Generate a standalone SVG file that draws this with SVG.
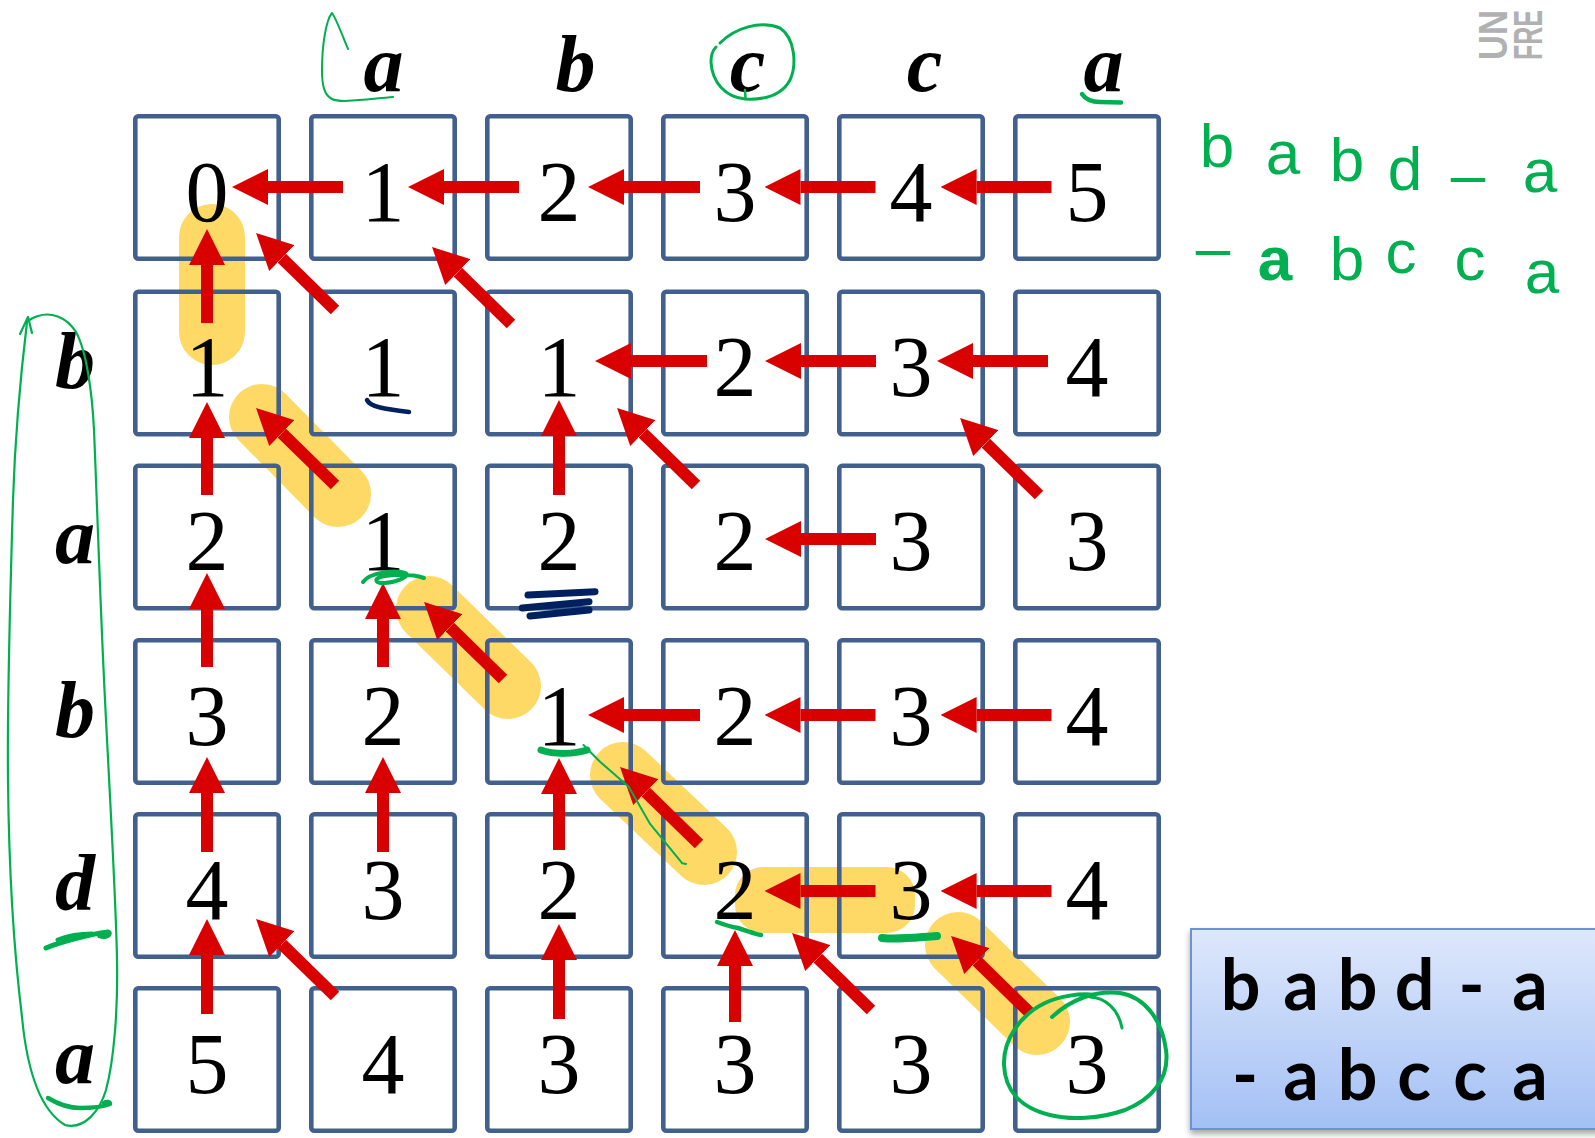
<svg xmlns="http://www.w3.org/2000/svg" width="1595" height="1138" viewBox="0 0 1595 1138">
<defs>
<style>
.cell rect{fill:none;stroke:#41608D;stroke-width:4.6}
.cell text{font-family:"Liberation Serif",serif;font-size:86px;fill:#000;text-anchor:middle}
.hdr{font-family:"Liberation Serif",serif;font-size:80px;font-weight:bold;font-style:italic;fill:#000;text-anchor:middle}
.hl{stroke:#FFD966;stroke-width:66;stroke-linecap:round;fill:none}
.arr line{stroke:#D90000;stroke-width:12;marker-end:url(#ah)}
.gp{fill:none;stroke:#00B050;stroke-linecap:round;stroke-linejoin:round}
.nv{fill:none;stroke:#002060;stroke-linecap:round}
.hand{font-family:"Liberation Sans",sans-serif;font-size:62px;fill:#00B050;text-anchor:middle}
.box{font-family:Lato,"Open Sans",sans-serif;font-size:70px;font-weight:bold;fill:#000;text-anchor:middle}
</style>
<marker id="ah" markerUnits="userSpaceOnUse" markerWidth="36" markerHeight="36" viewBox="0 0 36 36" refX="0" refY="18" orient="auto">
<path d="M0,0 L36,18 L0,36 Z" fill="#D90000"/>
</marker>
<linearGradient id="bg" x1="0" y1="0" x2="0" y2="1">
<stop offset="0" stop-color="#DEE8FB"/>
<stop offset="1" stop-color="#A3C0F5"/>
</linearGradient>
<filter id="sh" x="-10%" y="-10%" width="130%" height="130%">
<feDropShadow dx="0" dy="4" stdDeviation="3" flood-color="#000" flood-opacity="0.35"/>
</filter>
</defs>
<rect x="0" y="0" width="1595" height="1138" fill="#fff"/>

<g id="highlights">
<line class="hl" x1="212" y1="237" x2="212" y2="332"/>
<line class="hl" x1="262" y1="417" x2="338" y2="494"/>
<line class="hl" x1="429" y1="609" x2="508" y2="686"/>
<line class="hl" x1="623" y1="775" x2="704" y2="852"/>
<rect x="735" y="867" width="180" height="66" rx="28" fill="#FFD966"/>
<line class="hl" x1="958" y1="945" x2="1037" y2="1022"/>
</g>

<g id="logo" font-family="'Liberation Sans',sans-serif" font-weight="bold" font-size="40" fill="#B1B1B1">
<text transform="translate(1507,60) rotate(-90) scale(0.865,1)">UN</text>
<text transform="translate(1542,60) rotate(-90) scale(0.625,1)">FRE</text>
</g>

<g id="headers">
<text class="hdr" x="383.6" y="91">a</text>
<text class="hdr" x="575.5" y="91">b</text>
<text class="hdr" x="747.5" y="91">c</text>
<text class="hdr" x="924.5" y="91">c</text>
<text class="hdr" x="1103.5" y="91">a</text>
<text class="hdr" x="75" y="388">b</text>
<text class="hdr" x="75" y="563">a</text>
<text class="hdr" x="75" y="737">b</text>
<text class="hdr" x="75" y="910">d</text>
<text class="hdr" x="75" y="1083">a</text>
</g>

<g id="c-0-0" class="cell"><rect x="135.3" y="116.3" width="143.4" height="142.4" rx="3"/><text x="207" y="220.5">0</text></g>
<g id="c-0-1" class="cell"><rect x="311.3" y="116.3" width="143.4" height="142.4" rx="3"/><text x="383" y="220.5">1</text></g>
<g id="c-0-2" class="cell"><rect x="487.3" y="116.3" width="143.4" height="142.4" rx="3"/><text x="559" y="220.5">2</text></g>
<g id="c-0-3" class="cell"><rect x="663.3" y="116.3" width="143.4" height="142.4" rx="3"/><text x="735" y="220.5">3</text></g>
<g id="c-0-4" class="cell"><rect x="839.3" y="116.3" width="143.4" height="142.4" rx="3"/><text x="911" y="220.5">4</text></g>
<g id="c-0-5" class="cell"><rect x="1015.3" y="116.3" width="143.4" height="142.4" rx="3"/><text x="1087" y="220.5">5</text></g>

<g id="c-1-0" class="cell"><rect x="135.3" y="291.8" width="143.4" height="142.4" rx="3"/><text x="207" y="396">1</text></g>
<g id="c-1-1" class="cell"><rect x="311.3" y="291.8" width="143.4" height="142.4" rx="3"/><text x="383" y="396">1</text></g>
<g id="c-1-2" class="cell"><rect x="487.3" y="291.8" width="143.4" height="142.4" rx="3"/><text x="559" y="396">1</text></g>
<g id="c-1-3" class="cell"><rect x="663.3" y="291.8" width="143.4" height="142.4" rx="3"/><text x="735" y="396">2</text></g>
<g id="c-1-4" class="cell"><rect x="839.3" y="291.8" width="143.4" height="142.4" rx="3"/><text x="911" y="396">3</text></g>
<g id="c-1-5" class="cell"><rect x="1015.3" y="291.8" width="143.4" height="142.4" rx="3"/><text x="1087" y="396">4</text></g>

<g id="c-2-0" class="cell"><rect x="135.3" y="465.8" width="143.4" height="142.4" rx="3"/><text x="207" y="570">2</text></g>
<g id="c-2-1" class="cell"><rect x="311.3" y="465.8" width="143.4" height="142.4" rx="3"/><text x="383" y="570">1</text></g>
<g id="c-2-2" class="cell"><rect x="487.3" y="465.8" width="143.4" height="142.4" rx="3"/><text x="559" y="570">2</text></g>
<g id="c-2-3" class="cell"><rect x="663.3" y="465.8" width="143.4" height="142.4" rx="3"/><text x="735" y="570">2</text></g>
<g id="c-2-4" class="cell"><rect x="839.3" y="465.8" width="143.4" height="142.4" rx="3"/><text x="911" y="570">3</text></g>
<g id="c-2-5" class="cell"><rect x="1015.3" y="465.8" width="143.4" height="142.4" rx="3"/><text x="1087" y="570">3</text></g>

<g id="c-3-0" class="cell"><rect x="135.3" y="640.3" width="143.4" height="142.4" rx="3"/><text x="207" y="744.5">3</text></g>
<g id="c-3-1" class="cell"><rect x="311.3" y="640.3" width="143.4" height="142.4" rx="3"/><text x="383" y="744.5">2</text></g>
<g id="c-3-2" class="cell"><rect x="487.3" y="640.3" width="143.4" height="142.4" rx="3"/><text x="559" y="744.5">1</text></g>
<g id="c-3-3" class="cell"><rect x="663.3" y="640.3" width="143.4" height="142.4" rx="3"/><text x="735" y="744.5">2</text></g>
<g id="c-3-4" class="cell"><rect x="839.3" y="640.3" width="143.4" height="142.4" rx="3"/><text x="911" y="744.5">3</text></g>
<g id="c-3-5" class="cell"><rect x="1015.3" y="640.3" width="143.4" height="142.4" rx="3"/><text x="1087" y="744.5">4</text></g>

<g id="c-4-0" class="cell"><rect x="135.3" y="814.3" width="143.4" height="142.4" rx="3"/><text x="207" y="918.5">4</text></g>
<g id="c-4-1" class="cell"><rect x="311.3" y="814.3" width="143.4" height="142.4" rx="3"/><text x="383" y="918.5">3</text></g>
<g id="c-4-2" class="cell"><rect x="487.3" y="814.3" width="143.4" height="142.4" rx="3"/><text x="559" y="918.5">2</text></g>
<g id="c-4-3" class="cell"><rect x="663.3" y="814.3" width="143.4" height="142.4" rx="3"/><text x="735" y="918.5">2</text></g>
<g id="c-4-4" class="cell"><rect x="839.3" y="814.3" width="143.4" height="142.4" rx="3"/><text x="911" y="918.5">3</text></g>
<g id="c-4-5" class="cell"><rect x="1015.3" y="814.3" width="143.4" height="142.4" rx="3"/><text x="1087" y="918.5">4</text></g>

<g id="c-5-0" class="cell"><rect x="135.3" y="988.3" width="143.4" height="142.4" rx="3"/><text x="207" y="1092.5">5</text></g>
<g id="c-5-1" class="cell"><rect x="311.3" y="988.3" width="143.4" height="142.4" rx="3"/><text x="383" y="1092.5">4</text></g>
<g id="c-5-2" class="cell"><rect x="487.3" y="988.3" width="143.4" height="142.4" rx="3"/><text x="559" y="1092.5">3</text></g>
<g id="c-5-3" class="cell"><rect x="663.3" y="988.3" width="143.4" height="142.4" rx="3"/><text x="735" y="1092.5">3</text></g>
<g id="c-5-4" class="cell"><rect x="839.3" y="988.3" width="143.4" height="142.4" rx="3"/><text x="911" y="1092.5">3</text></g>
<g id="c-5-5" class="cell"><rect x="1015.3" y="988.3" width="143.4" height="142.4" rx="3"/><text x="1087" y="1092.5">3</text></g>

<g id="connectors" class="arr">
<line x1="343" y1="187" x2="268" y2="187"/>
<line x1="519" y1="187" x2="444" y2="187"/>
<line x1="700" y1="187" x2="624" y2="187"/>
<line x1="875.5" y1="187" x2="800.5" y2="187"/>
<line x1="1051.5" y1="187" x2="976.6" y2="187"/>
<line x1="707" y1="361" x2="631" y2="361"/>
<line x1="876" y1="361" x2="801" y2="361"/>
<line x1="1048" y1="361" x2="973" y2="361"/>
<line x1="876" y1="539" x2="801" y2="539"/>
<line x1="700" y1="715" x2="624" y2="715"/>
<line x1="875.5" y1="715" x2="800.5" y2="715"/>
<line x1="1051.5" y1="715" x2="976.6" y2="715"/>
<line x1="875.5" y1="891" x2="800.5" y2="891"/>
<line x1="1051.5" y1="891" x2="976.6" y2="891"/>
<line x1="207" y1="323" x2="207" y2="265"/>
<line x1="207" y1="495" x2="207" y2="438"/>
<line x1="207" y1="667" x2="207" y2="609"/>
<line x1="207" y1="852" x2="207" y2="793"/>
<line x1="207" y1="1014" x2="207" y2="955"/>
<line x1="383" y1="667" x2="383" y2="619"/>
<line x1="383" y1="852" x2="383" y2="793"/>
<line x1="559" y1="495" x2="559" y2="436"/>
<line x1="559" y1="850" x2="559" y2="794"/>
<line x1="559" y1="1019" x2="559" y2="960"/>
<line x1="735" y1="1022" x2="735" y2="966"/>
<line x1="335" y1="310" x2="281.8" y2="258.1"/>
<line x1="511" y1="324" x2="457.8" y2="272.1"/>
<line x1="335" y1="485" x2="281.8" y2="433.1"/>
<line x1="696" y1="485" x2="642.8" y2="433.1"/>
<line x1="1039" y1="495" x2="985.8" y2="443.1"/>
<line x1="503" y1="679" x2="449.8" y2="627.1"/>
<line x1="699" y1="844" x2="645.8" y2="792.1"/>
<line x1="335" y1="996" x2="281.8" y2="944.1"/>
<line x1="871" y1="1010" x2="817.8" y2="958.1"/>
<line x1="1030" y1="1013" x2="976.8" y2="961.1"/>
</g>

<g id="result-box">
<rect x="1191" y="929" width="420" height="200" fill="url(#bg)" stroke="#6C93CF" stroke-width="2" filter="url(#sh)"/>
<text class="box" x="1240.5 1271 1301 1329 1357.5 1386 1414.5 1443 1471.5 1500 1530" y="1010">b a b d - a</text>
<text class="box" x="1245 1273 1301 1329 1357.5 1386 1414 1442 1470 1500 1530" y="1100">- a b c c a</text>
</g>

<g id="handwriting">
<text class="hand" x="1217 1250 1283 1315 1347 1376 1405 1436 1468 1504 1540" y="167 170 174 178 181 185 190 192 196 194 192">b a b d – a</text>
<text class="hand" x="1213 1244 1275 1311 1347 1374 1401 1435 1470 1506 1542" y="269 275 280 280 280 276 273 276 280 286 293">– <tspan font-weight="bold">a</tspan> b c c a</text>
</g>

<g id="annotations">
<path class="gp" stroke-width="2" d="M348,49 C344,40 337,20 332,13 C326,20 322,45 322,70 C322,85 324,95 332,99 C340,103 360,100 393,97"/>
<path class="gp" stroke-width="3" d="M720,43 C735,28 760,20 780,28 C795,38 797,65 790,80 C782,95 765,100 745,99 C725,97 712,82 711,62 C711,55 713,50 716,47"/>
<path class="gp" stroke-width="2.5" d="M745,90 L745.5,98"/>
<path class="gp" stroke-width="4.5" d="M1082,94 C1086,100 1092,102 1100,102 L1121,102.5"/>
<path class="gp" stroke-width="2.2" d="M27,322 C20,380 15,440 13,500 C10,600 7,700 8,780 C9,880 15,960 22,1017 C27,1070 40,1110 65,1125 C85,1130 100,1110 106,1090 C114,1060 118,1010 117,960 C116,900 110,800 105,700 C100,600 97,500 94,430 C92,390 86,350 76,332 C66,316 50,312 38,316 C32,318 29,320 27,322"/>
<path class="gp" stroke-width="2.2" d="M20,334 L28,317 L32,333"/>
<path class="gp" stroke-width="5" d="M46,948 C60,942 90,934 108,932 C112,934 106,938 100,936 M58,940 C68,936 78,934 92,934"/>
<path class="gp" stroke-width="4.5" d="M48,1098 C58,1104 70,1108 80,1108 C95,1108 105,1106 110,1104 C110,1102 106,1101 104,1103"/>
<path class="gp" stroke-width="4" d="M363,582 C370,572 395,570 405,573 C412,575 398,582 385,583 C375,584 372,578 385,576 C400,574 415,575 424,578"/>
<path class="gp" stroke-width="7" d="M541,750 C555,755 575,754 587,750"/>
<path class="gp" stroke-width="2" d="M583.5,745 L600,761.7 L628.7,786.7 L649.7,823.3 L682.3,863.3 L686,864"/>
<path class="gp" stroke-width="4.5" d="M717,922 C725,925 732,927 738,928 C748,931 755,934 761,935"/>
<path class="gp" stroke-width="8" d="M882,938 C900,940 920,937 937,936"/>
<path class="gp" stroke-width="4" d="M1052,1017 C1070,1000 1095,990 1120,993 C1145,997 1162,1020 1166,1050 C1170,1080 1150,1100 1125,1110 C1100,1119 1070,1120 1050,1115 C1020,1108 1005,1090 1004,1065 C1003,1040 1020,1015 1045,1003 C1060,996 1080,993 1095,995"/>
<path class="gp" stroke-width="3" d="M1090,997 C1105,998 1118,1008 1122,1028"/>
<path class="nv" stroke-width="4.5" d="M367,400 C370,407 385,409 409,412"/>
<path class="nv" stroke-width="7" d="M528,595 L595,591.7 M522.3,608 L589,601.7 M530,616 L589,610"/>
</g>
</svg>
